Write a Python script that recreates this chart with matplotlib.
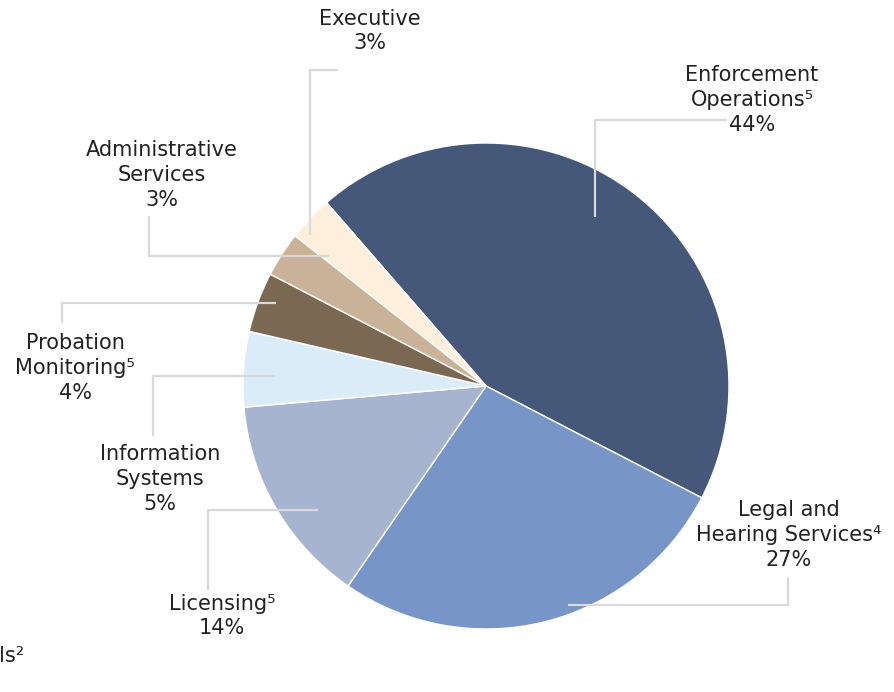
import matplotlib
matplotlib.use("Agg")
import matplotlib.pyplot as plt

# Budget share by division (clockwise from the top)
divisions = ["Enforcement\nOperations\u2075", "Legal and\nHearing Services\u2074", "Licensing\u2075",
             "Information\nSystems", "Probation\nMonitoring\u2075", "Administrative\nServices", "Executive"]
shares = [44, 27, 14, 5, 4, 3, 3]
colors = ["#455879", "#7895C7", "#A7B4CF", "#DBECF9", "#7A6852", "#C9B298", "#FEEFDD"]

W, H = 894, 692
fig = plt.figure(figsize=(W / 100, H / 100), dpi=100)
ax = fig.add_axes([0, 0, 1, 1])
ax.set_xlim(0, W)
ax.set_ylim(0, H)
ax.set_aspect("equal")
ax.axis("off")

def fy(y):
    # image row -> plot y
    return H - y

ax.pie(shares, colors=colors, startangle=131, counterclock=False,
       center=(486, fy(386)), radius=243,
       wedgeprops=dict(edgecolor="white", linewidth=1))
ax.set_xlim(0, W)
ax.set_ylim(0, H)

# leader lines (image pixel coords)
leaders = [
    [(595, 217), (595, 120), (727, 120)],
    [(568, 605), (788, 605), (788, 577)],
    [(318, 510), (208, 510), (208, 590)],
    [(275, 376), (153, 376), (153, 436)],
    [(276, 303), (62, 303), (62, 323)],
    [(329, 256), (149, 256), (149, 216)],
    [(310, 235), (310, 70), (338, 70)],
]
for pts in leaders:
    ax.plot([p[0] for p in pts], [fy(p[1]) for p in pts], color="#D9D9D9",
            lw=1.6, solid_capstyle="butt", zorder=3)

# label centres (image pixel coords)
label_pos = [(752, 100), (789, 535), (222, 616), (160, 479), (75, 368), (162, 175), (370, 31)]
for name, val, (x, y) in zip(divisions, shares, label_pos):
    ax.text(x, fy(y), "%s\n%d%%" % (name, val), ha="center", va="center",
            fontsize=15, color="#222222", linespacing=1.3, family="DejaVu Sans")

ax.text(-1, fy(656), "ls\u00b2", ha="left", va="center", fontsize=15, color="#222222")

fig.savefig("out.png", dpi=100)
